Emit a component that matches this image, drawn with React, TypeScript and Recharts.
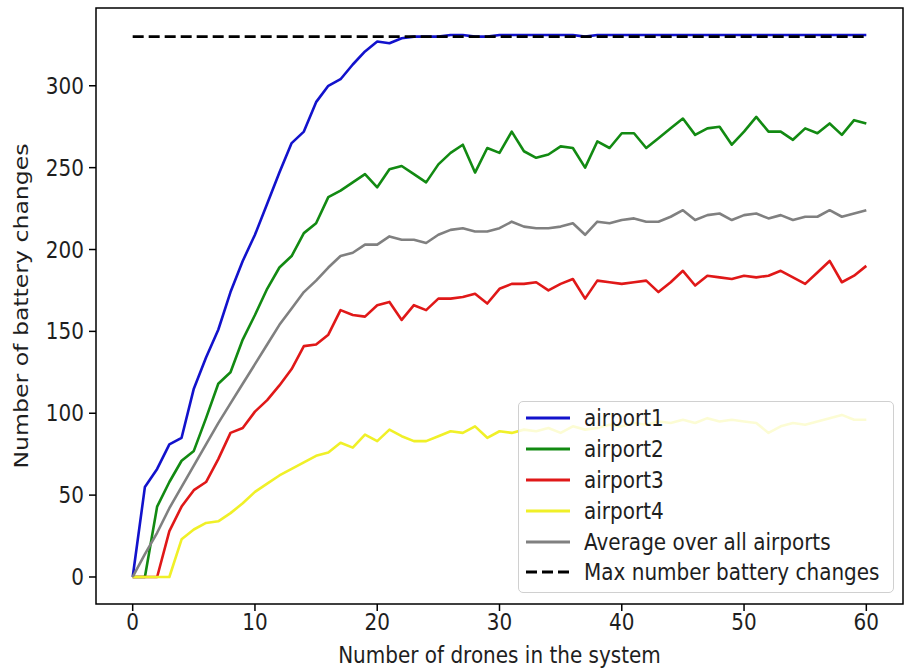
import { Line, LineChart, ReferenceArea, XAxis, YAxis } from "recharts";

// number of drones in the system (x)
const drones = [
  0, 1, 2, 3, 4, 5, 6, 7, 8, 9, 10, 11, 12, 13, 14, 15, 16, 17, 18, 19, 20,
  21, 22, 23, 24, 25, 26, 27, 28, 29, 30, 31, 32, 33, 34, 35, 36, 37, 38, 39,
  40, 41, 42, 43, 44, 45, 46, 47, 48, 49, 50, 51, 52, 53, 54, 55, 56, 57, 58,
  59, 60,
];

const airport1 = [
  0, 55, 66, 81, 85, 115, 134, 151, 174, 193, 209, 228, 247, 265, 272, 290,
  300, 304, 313, 321, 327, 326, 329, 330, 330, 330, 331, 331, 330, 330, 331,
  331, 331, 331, 331, 331, 331, 330, 331, 331, 331, 331, 331, 331, 331, 331,
  331, 331, 331, 331, 331, 331, 331, 331, 331, 331, 331, 331, 331, 331, 331,
];

const airport2 = [
  0, 0, 43, 58, 71, 77, 97, 118, 125, 145, 160, 176, 189, 196, 210, 216, 232,
  236, 241, 246, 238, 249, 251, 246, 241, 252, 259, 264, 247, 262, 259, 272,
  260, 256, 258, 263, 262, 250, 266, 262, 271, 271, 262, 268, 274, 280, 270,
  274, 275, 264, 272, 281, 272, 272, 267, 274, 271, 277, 270, 279, 277,
];

const airport3 = [
  0, 0, 0, 28, 43, 53, 58, 72, 88, 91, 101, 108, 117, 127, 141, 142, 148, 163,
  160, 159, 166, 168, 157, 166, 163, 170, 170, 171, 173, 167, 176, 179, 179,
  180, 175, 179, 182, 170, 181, 180, 179, 180, 181, 174, 180, 187, 178, 184,
  183, 182, 184, 183, 184, 187, 183, 179, 186, 193, 180, 184, 190,
];

const airport4 = [
  0, 0, 0, 0, 23, 29, 33, 34, 39, 45, 52, 57, 62, 66, 70, 74, 76, 82, 79, 87,
  83, 90, 86, 83, 83, 86, 89, 88, 92, 85, 89, 88, 90, 89, 91, 88, 92, 90, 91,
  93, 92, 94, 93, 95, 94, 96, 94, 97, 95, 96, 95, 94, 88, 92, 94, 93, 95, 97,
  99, 96, 96,
];

const average = [
  0, 14, 27, 42, 55, 68, 81, 94, 106, 118, 130, 142, 154, 164, 174, 181, 189,
  196, 198, 203, 203, 208, 206, 206, 204, 209, 212, 213, 211, 211, 213, 217,
  214, 213, 213, 214, 216, 209, 217, 216, 218, 219, 217, 217, 220, 224, 218,
  221, 222, 218, 221, 222, 219, 221, 218, 220, 220, 224, 220, 222, 224,
];

const MAX_CHANGES = 330;

const xTicks = [0, 10, 20, 30, 40, 50, 60];
const yTicks = [0, 50, 100, 150, 200, 250, 300];

const series = [
  { key: "airport1", name: "airport1", color: "#1212cc", dash: undefined },
  { key: "airport2", name: "airport2", color: "#128a12", dash: undefined },
  { key: "airport3", name: "airport3", color: "#e01818", dash: undefined },
  { key: "airport4", name: "airport4", color: "#f0f028", dash: undefined },
  { key: "average", name: "Average over all airports", color: "#808080", dash: undefined },
  { key: "max", name: "Max number battery changes", color: "#000000", dash: "11 5" },
];

const rows = drones.map((x, i) => ({
  x,
  airport1: airport1[i],
  airport2: airport2[i],
  airport3: airport3[i],
  airport4: airport4[i],
  average: average[i],
  max: MAX_CHANGES,
}));

const FONT = "DejaVu Sans, sans-serif";
const TEXT = "#1e1e1e";
// the reference picture is stretched a bit vertically, so the glyphs are too
const STRETCH = 1.18;

function StretchedText({ x, y, anchor, rotate, children }: any) {
  const t = rotate
    ? `translate(${x} ${y}) rotate(-90) scale(${STRETCH} 1)`
    : `translate(${x} ${y}) scale(1 ${STRETCH})`;
  return (
    <text
      transform={t}
      textAnchor={anchor}
      dominantBaseline="central"
      fontSize={20}
      fill={TEXT}
      fontFamily={FONT}
    >
      {children}
    </text>
  );
}

const XTick = (props: any) => (
  <StretchedText x={props.x} y={props.y + 6} anchor="middle">
    {props.payload.value}
  </StretchedText>
);

const YTick = (props: any) => (
  <StretchedText x={props.x} y={props.y} anchor="end">
    {props.payload.value}
  </StretchedText>
);

function ChartLegend() {
  return (
    <div
      style={{
        position: "absolute",
        left: 518,
        top: 401,
        width: 376,
        height: 192,
        boxSizing: "border-box",
        background: "rgba(255,255,255,0.8)",
        border: "1px solid #d0d0d0",
        borderRadius: 5,
        padding: "1px 0 0 7px",
        fontFamily: FONT,
        fontSize: 20,
        color: TEXT,
      }}
    >
      {series.map((s) => (
        <div
          key={s.key}
          style={{ display: "flex", alignItems: "center", height: 30.8 }}
        >
          <svg width={44} height={10} style={{ marginRight: 14 }}>
            <line
              x1={0}
              x2={44}
              y1={5}
              y2={5}
              stroke={s.color}
              strokeWidth={3}
              strokeDasharray={s.dash}
            />
          </svg>
          <span
            style={{
              display: "inline-block",
              transform: `scaleY(${STRETCH})`,
              whiteSpace: "nowrap",
            }}
          >
            {s.name}
          </span>
        </div>
      ))}
    </div>
  );
}

export default function App() {
  return (
    <div
      style={{
        position: "absolute",
        left: 0,
        top: 0,
        width: 910,
        height: 670,
        background: "#fff",
      }}
    >
      <LineChart
        width={910}
        height={670}
        data={rows}
        margin={{ top: 8, right: 7, left: 0, bottom: 0 }}
      >
        <XAxis
          type="number"
          dataKey="x"
          domain={[-3, 63]}
          ticks={xTicks}
          allowDataOverflow
          height={66}
          tickSize={7}
          tickMargin={5}
          axisLine={false}
          tickLine={{ stroke: "#000", strokeWidth: 1.5 }}
          tick={XTick}
          label={{
            content: ({ viewBox }: any) => (
              <StretchedText
                x={viewBox.x + viewBox.width / 2}
                y={655}
                anchor="middle"
              >
                Number of drones in the system
              </StretchedText>
            ),
          }}
        />
        <YAxis
          type="number"
          domain={[-16.5, 347.5]}
          ticks={yTicks}
          allowDataOverflow
          width={96}
          tickSize={7}
          tickMargin={5}
          axisLine={false}
          tickLine={{ stroke: "#000", strokeWidth: 1.5 }}
          tick={YTick}
          label={{
            content: ({ viewBox }: any) => (
              <StretchedText
                x={21}
                y={viewBox.y + viewBox.height / 2}
                anchor="middle"
                rotate
              >
                Number of battery changes
              </StretchedText>
            ),
          }}
        />
        {series.map((s) => (
          <Line
            key={s.key}
            type="linear"
            dataKey={s.key}
            name={s.name}
            stroke={s.color}
            strokeWidth={2.6}
            strokeDasharray={s.dash}
            strokeLinejoin="round"
            dot={false}
            activeDot={false}
            isAnimationActive={false}
          />
        ))}
        <ReferenceArea
          x1={-3}
          x2={63}
          y1={-16.5}
          y2={347.5}
          fill="none"
          stroke="#000"
          strokeWidth={1.5}
          ifOverflow="visible"
        />
      </LineChart>
      <ChartLegend />
    </div>
  );
}
